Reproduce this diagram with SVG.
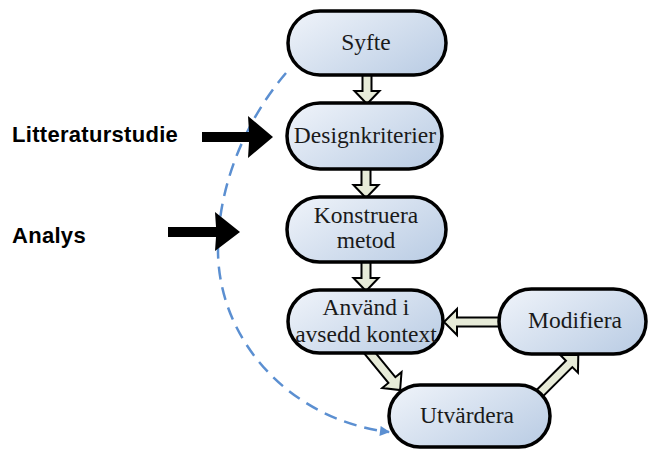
<svg xmlns="http://www.w3.org/2000/svg" width="650" height="450" viewBox="0 0 650 450">
  <defs>
    <linearGradient id="nodeFill" x1="0" y1="0" x2="1" y2="0.7">
      <stop offset="0" stop-color="#f0f4fa"/>
      <stop offset="1" stop-color="#bfd0e6"/>
    </linearGradient>
    <marker id="blueHead" viewBox="0 0 10 10" refX="9" refY="5" markerWidth="11" markerHeight="10" markerUnits="userSpaceOnUse" orient="auto">
      <path d="M0,0 L10,5 L0,10 z" fill="#5b8fd1"/>
    </marker>
    <style>
      .node rect { fill: url(#nodeFill); stroke: #000; stroke-width: 3.5; }
      .node text { font-family: "Liberation Serif", "Times New Roman", serif; font-size: 23.5px; fill: #1a1a1a; text-anchor: middle; }
      .flow { fill: #e7ebd8; stroke: #000; stroke-width: 2; stroke-linejoin: miter; }
      .input { fill: #000; }
      .side { font-family: "Liberation Sans", Arial, sans-serif; font-weight: bold; font-size: 22px; letter-spacing: 0.3px; fill: #000; }
      .loop { fill: none; stroke: #5b8fd1; stroke-width: 2.5; stroke-dasharray: 13 8; }
    </style>
  </defs>

  <rect width="650" height="450" fill="#fff"/>

  <!-- side labels -->
  <text class="side" x="12" y="142">Litteraturstudie</text>
  <text class="side" x="12" y="243">Analys</text>

  <g id="connectors">
    <!-- dashed feedback loop from the goal back to evaluation -->
    <path class="loop" d="M286,73 C250,115 218,180 218,250 C218,340 290,420 389,432" marker-end="url(#blueHead)"/>

    <!-- external inputs -->
    <polygon class="input" points="202,132 249,132 248,116 273,137 248,158 249,142 202,142"/>
    <polygon class="input" points="168,227 216,227 215,212 240,232 215,251 216,237 168,237"/>

    <!-- block arrows between steps -->
    <polygon class="flow" transform="translate(367,72) rotate(90)" points="0,-4.5 19,-4.5 19,-12.5 32,0 19,12.5 19,4.5 0,4.5"/>
    <polygon class="flow" transform="translate(366,166) rotate(90)" points="0,-4.5 19,-4.5 19,-12.5 32,0 19,12.5 19,4.5 0,4.5"/>
    <polygon class="flow" transform="translate(366,259) rotate(90)" points="0,-4.5 19,-4.5 19,-12.5 32,0 19,12.5 19,4.5 0,4.5"/>
    <polygon class="flow" transform="translate(502,322) rotate(180)" points="0,-4.5 45,-4.5 45,-13 58,0 45,13 45,4.5 0,4.5"/>
    <polygon class="flow" transform="translate(364,346) rotate(50.7)" points="0,-4.5 44,-4.5 44,-12.5 57,0 44,12.5 44,4.5 0,4.5"/>
    <polygon class="flow" transform="translate(538,395) rotate(-45)" points="0,-4.5 44,-4.5 44,-12.5 57,0 44,12.5 44,4.5 0,4.5"/>
  </g>

  <g id="syfte" class="node">
    <rect x="288" y="11" width="158" height="64" rx="32"/>
    <text x="366" y="50">Syfte</text>
  </g>

  <g id="designkriterier" class="node">
    <rect x="287" y="103" width="155" height="66" rx="33"/>
    <text x="365" y="143">Designkriterier</text>
  </g>

  <g id="konstruera" class="node">
    <rect x="287" y="197" width="159" height="65" rx="32.5"/>
    <text x="366" y="223">Konstruera</text>
    <text x="366" y="248">metod</text>
  </g>

  <g id="anvand" class="node">
    <rect x="288" y="290" width="155" height="63" rx="31.5"/>
    <text x="366" y="315">Använd i</text>
    <text x="366" y="342">avsedd kontext</text>
  </g>

  <g id="modifiera" class="node">
    <rect x="499" y="289" width="147" height="65" rx="32.5"/>
    <text x="575" y="328">Modifiera</text>
  </g>

  <g id="utvardera" class="node">
    <rect x="389" y="385" width="161" height="62" rx="31"/>
    <text x="467" y="423">Utvärdera</text>
  </g>
</svg>
